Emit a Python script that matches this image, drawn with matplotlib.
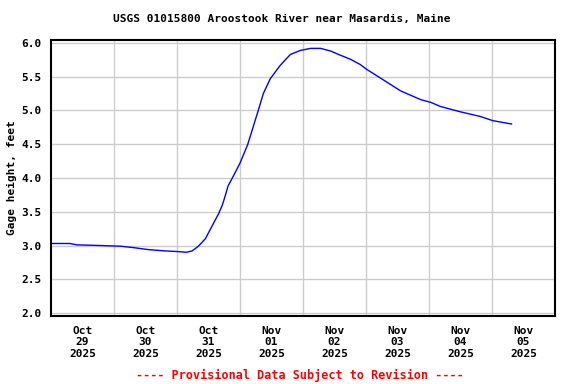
"""USGS gage height, Aroostook River near Masardis, Maine (Oct 29 - Nov 5 2025)."""
import numpy as np
import matplotlib
matplotlib.use("Agg")
import matplotlib.pyplot as plt
from matplotlib.ticker import FixedLocator, FormatStrFormatter

# tiempo en días desde 2025-10-29 00:00, altura en pies
days = [0.00, 0.30, 0.41, 0.78, 1.10, 1.30, 1.54, 1.81, 2.02, 2.15, 2.24,
        2.34, 2.45, 2.58, 2.66, 2.72, 2.77, 2.81, 2.89, 3.00, 3.12, 3.21,
        3.29, 3.37, 3.48, 3.64, 3.80, 3.96, 4.12, 4.28, 4.44, 4.59, 4.75,
        4.91, 5.01, 5.23, 5.55, 5.87, 6.03, 6.18, 6.50, 6.82, 7.01, 7.31]
gage_ft = [3.03, 3.03, 3.01, 3.00, 2.99, 2.97, 2.94, 2.92, 2.91, 2.90, 2.92,
           2.99, 3.10, 3.33, 3.47, 3.60, 3.75, 3.88, 4.02, 4.22, 4.49, 4.76,
           5.00, 5.25, 5.47, 5.67, 5.83, 5.89, 5.92, 5.92, 5.88, 5.82, 5.76,
           5.68, 5.61, 5.48, 5.29, 5.16, 5.12, 5.06, 4.98, 4.91, 4.85, 4.80]

date_labels = ["Oct\n29\n2025", "Oct\n30\n2025", "Oct\n31\n2025", "Nov\n01\n2025",
               "Nov\n02\n2025", "Nov\n03\n2025", "Nov\n04\n2025", "Nov\n05\n2025"]
y_ticks = [2.0, 2.5, 3.0, 3.5, 4.0, 4.5, 5.0, 5.5, 6.0]

FONT = dict(family="DejaVu Sans Mono", weight="bold", size=8)

fig = plt.figure(figsize=(5.76, 3.84), dpi=100)
ax = fig.add_axes([51 / 576, 1 - 316 / 384, 504 / 576, 276 / 384])

ax.plot(days, gage_ft, color="#0000ff", lw=1)

ax.set_xlim(0, 8)
ax.set_ylim(1.956, 6.044)

# rejilla a medianoche, etiquetas al mediodía
ax.xaxis.set_major_locator(FixedLocator(np.arange(1, 8)))
ax.xaxis.set_major_formatter(plt.NullFormatter())
ax.set_xticks(np.arange(len(date_labels)) + 0.5, labels=date_labels, minor=True)
ax.set_yticks(y_ticks)
ax.yaxis.set_major_formatter(FormatStrFormatter("%.1f"))
ax.tick_params(which="both", length=0)
ax.tick_params(axis="x", which="minor", pad=7)
ax.tick_params(axis="y", pad=7)
fp = matplotlib.font_manager.FontProperties(**FONT)
for lab in ax.get_xticklabels(minor=True) + ax.get_yticklabels():
    lab.set_fontproperties(fp)
for lab in ax.get_xticklabels(minor=True):
    lab.set_linespacing(1.2)

ax.grid(True, which="major", color="#cccccc", lw=1)
ax.set_axisbelow(True)
for s in ax.spines.values():
    s.set_linewidth(1.5)

ax.set_ylabel("Gage height, feet", fontdict=FONT)
ax.yaxis.set_label_coords(-(51 - 17) / 504, 0.5)
fig.text(282 / 576, 1 - 19 / 384, "USGS 01015800 Aroostook River near Masardis, Maine",
         ha="center", va="center", **FONT)
fig.text(300 / 576, 1 - 375 / 384, "---- Provisional Data Subject to Revision ----",
         ha="center", va="center", color="#ff0000",
         family="DejaVu Sans Mono", weight="bold", size=8.5)

fig.savefig("out.png", dpi=100, facecolor="white")
